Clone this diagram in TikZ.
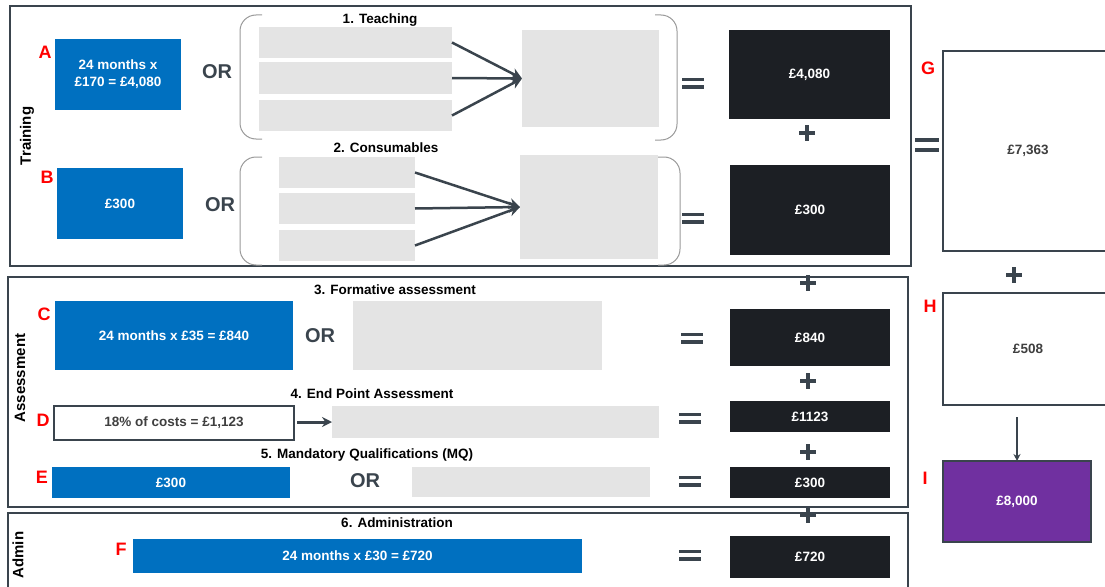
\documentclass[tikz,border=0pt]{standalone}
\usepackage{fontspec}
\setmainfont{Liberation Sans}
\usetikzlibrary{arrows.meta,positioning}

\definecolor{boxblue}{HTML}{0070C0}
\definecolor{boxdark}{HTML}{1C1F24}
\definecolor{boxgrey}{HTML}{E4E4E4}
\definecolor{slate}{HTML}{3A444D}
\definecolor{boxpurple}{HTML}{7030A0}
\definecolor{textgrey}{HTML}{3F3F3F}

\tikzset{
    wh/.style 2 args={minimum width=#1pt, minimum height=#2pt},
    cell/.style={inner sep=0pt, outer sep=0pt, align=center, font=\bfseries\fontsize{13.5}{16}\selectfont},
    bluebox/.style={cell, fill=boxblue, text=white},
    darkbox/.style={cell, fill=boxdark, text=white},
    greybox/.style={cell, fill=boxgrey},
    sumbox/.style={cell, draw=slate, line width=2pt, fill=white, text=textgrey},
    letter/.style={text=red, font=\bfseries\fontsize{18}{20}\selectfont},
    ortext/.style={text=slate, font=\bfseries\fontsize{20}{24}\selectfont},
    title/.style={font=\bfseries\fontsize{13.5}{16}\selectfont},
    side/.style={rotate=90, font=\bfseries\fontsize{15}{18}\selectfont},
    frame/.style={draw=slate, line width=2.5pt},
    brace/.style={draw=black!40, line width=1pt, rounded corners=16pt},
    arr/.style={draw=slate, line width=2.5pt, -{Stealth[length=11pt, width=11pt]}},
    thinarr/.style={draw=slate, line width=1.6pt, -{Stealth[length=7pt, width=7pt]}},
    symb/.style={draw=slate, line width=3.6pt},
    eqsign/.pic={\draw[symb] (-11,-3.7) -- (11,-3.7) (-11,3.7) -- (11,3.7);},
    bigeq/.pic={\draw[symb, line width=4.4pt] (-12,-5) -- (12,-5) (-12,5) -- (12,5);},
    plussign/.pic={\draw[symb] (-8,0) -- (8,0) (0,-8) -- (0,8);}
}

\begin{document}
\begin{tikzpicture}[x=1pt, y=-1pt]
    \useasboundingbox (0,0) rectangle (1105,586);
    \clip (0,0) rectangle (1105,586);
    % frames
    \draw[frame] (10,6) rectangle (911,266);
    \draw[frame] (8,277) rectangle (908,507);
    \draw[frame] (8,513) rectangle (908,600);
    \node[side] (training) at (27,136) {Training};
    \node[side] (assessment) at (20,378) {Assessment};
    \node[side] (admin) at (18,555) {Admin};

    % training: teaching
    \node[letter] (la) at (45,52) {A};
    \node[bluebox, wh={126}{71}] (boxa) at (118,74.5) {24 months x\\[1pt]£170 = £4,080};
    \node[ortext] (or1) at (217,72) {OR};
    \node[title] (teaching) at (380,20) {1. Teaching};
    \draw[brace] (262,15) -- (240,15) -- (240,139) -- (262,139);
    \draw[brace] (655,15) -- (677,15) -- (677,140) -- (655,140);
    \foreach \i/\y in {1/42.5,2/78,3/115.5}
        \node[greybox, wh={193}{31}] (teach\i) at (355.5,\y) {};
    \node[greybox, wh={137}{97}] (teachsum) at (590.5,78.5) {};
    \foreach \i in {1,2,3}
        \draw[arr] (teach\i.east) -- (teachsum.west);
    \pic at (693,83) {eqsign};
    \node[darkbox, wh={161}{89}] (tot1) at (809.5,74.5) {£4,080};
    \pic at (807,133) {plussign};

    % training: consumables
    \node[letter] (lb) at (47,177) {B};
    \node[bluebox, wh={126}{71}] (boxb) at (120,203.5) {£300};
    \node[ortext] (or2) at (220,205) {OR};
    \node[title] (consumables) at (386,148) {2. Consumables};
    \draw[brace] (262,157) -- (240,157) -- (240,265) -- (262,265);
    \draw[brace] (658,157) -- (680,157) -- (680,265) -- (658,265);
    \foreach \i/\y in {1/172.5,2/208.5,3/245.5}
        \node[greybox, wh={136}{31}] (cons\i) at (347,\y) {};
    \node[greybox, wh={138}{104}] (conssum) at (589,207) {};
    \foreach \i in {1,2,3}
        \draw[arr] (cons\i.east) -- (conssum.west);
    \pic at (693,218) {eqsign};
    \node[darkbox, wh={160}{90}] (tot2) at (810,210) {£300};

    % totals on the right
    \node[letter] (lg) at (928,68) {G};
    \pic at (927,145) {bigeq};
    \node[sumbox, wh={170}{200}] (gbox) at (1028,151) {£7,363};
    \pic at (1014,275) {plussign};
    \node[letter] (lh) at (930,306) {H};
    \node[sumbox, wh={170}{112}] (hbox) at (1028,349) {£508};
    \node[letter] (li) at (925,478) {I};
    \node[sumbox, fill=boxpurple, text=white, wh={148}{81}] (ibox) at (1017,501.5) {£8,000};
    \draw[thinarr, shorten <=12pt] (ibox.north |- hbox.south) -- (ibox.north);

    % assessment
    \pic at (808,283) {plussign};
    \node[title] (formative) at (395,290) {3. Formative assessment};
    \node[letter] (lc) at (44,314) {C};
    \node[bluebox, wh={238}{69}] (boxc) at (174,335.5) {24 months x £35 = £840};
    \node[ortext] (or3) at (320,336) {OR};
    \node[greybox, wh={249}{69}] (greyc) at (477.5,335.5) {};
    \pic at (692,338) {eqsign};
    \node[darkbox, wh={160}{57}] (tot3) at (810,337.5) {£840};
    \pic at (808,381) {plussign};

    \node[title] (endpoint) at (372,394) {4. End Point Assessment};
    \node[letter] (ld) at (43,420) {D};
    \node[cell, draw=slate, line width=1.6pt, text=textgrey, wh={240}{34}] (boxd) at (174,423) {18\% of costs = £1,123};
    \node[greybox, wh={327}{32}] (greyd) at (495.5,422) {};
    \draw[draw=slate, line width=3pt, -{Stealth[length=10pt, width=10pt]}, shorten <=3pt] (boxd.east |- greyd.west) -- (greyd.west);
    \pic at (690,418) {eqsign};
    \node[darkbox, wh={160}{31}] (tot4) at (810,416.5) {£1123};
    \pic at (808,452) {plussign};

    \node[title] (mandatory) at (367,455) {5. Mandatory Qualifications (MQ)};
    \node[letter] (le) at (42,477) {E};
    \node[bluebox, wh={238}{31}] (boxe) at (171,482.5) {£300};
    \node[ortext] (or4) at (365,481) {OR};
    \node[greybox, wh={238}{30}] (greye) at (531,482) {};
    \pic at (690,481) {eqsign};
    \node[darkbox, wh={160}{31}] (tot5) at (810,482.5) {£300};
    \pic at (808,515) {plussign};

    % admin
    \node[title] (administration) at (397,523) {6. Administration};
    \node[letter] (lf) at (121,549) {F};
    \node[bluebox, wh={449}{34}] (boxf) at (357.5,556) {24 months x £30 = £720};
    \pic at (690,555) {eqsign};
    \node[darkbox, wh={160}{42}] (tot6) at (810,557) {£720};
\end{tikzpicture}
\end{document}
